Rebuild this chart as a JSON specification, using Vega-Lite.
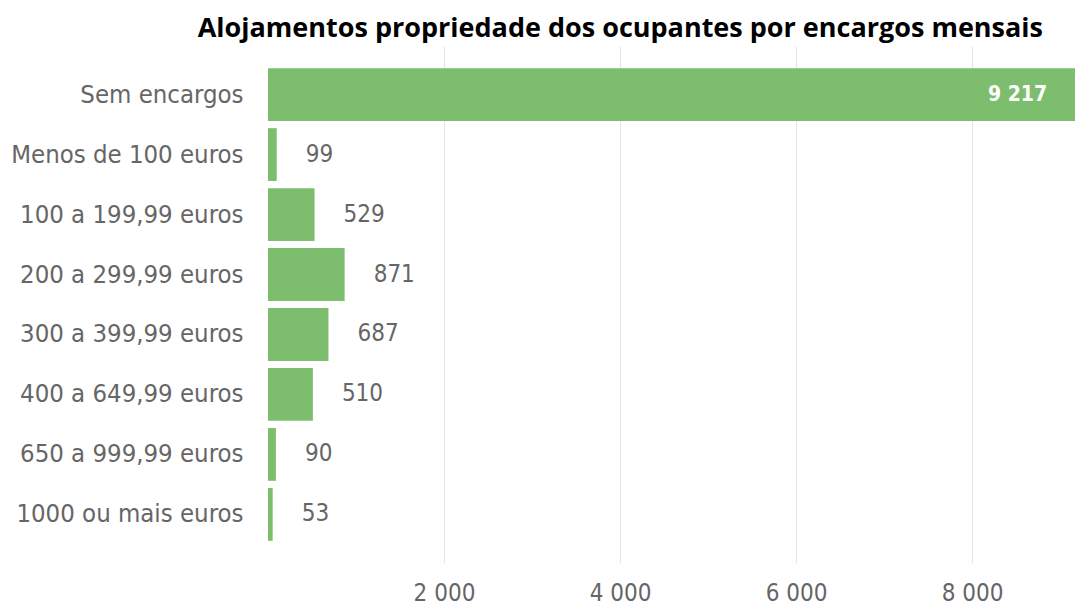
{
  "$schema": "https://vega.github.io/schema/vega-lite/v6.json",
  "width": 807,
  "height": 517,
  "autosize": {"type": "none"},
  "padding": {"left": 268, "top": 46, "right": 0, "bottom": 45},
  "background": "white",
  "title": {
    "text": "Alojamentos propriedade dos ocupantes por encargos mensais",
    "anchor": "end",
    "dx": -32,
    "offset": 3,
    "font": "Open Sans",
    "fontSize": 27,
    "fontWeight": "bold",
    "color": "#000000"
  },
  "data": {
    "values": [
      {"categoria": "Sem encargos", "alojamentos": 9217},
      {"categoria": "Menos de 100 euros", "alojamentos": 99},
      {"categoria": "100 a 199,99 euros", "alojamentos": 529},
      {"categoria": "200 a 299,99 euros", "alojamentos": 871},
      {"categoria": "300 a 399,99 euros", "alojamentos": 687},
      {"categoria": "400 a 649,99 euros", "alojamentos": 510},
      {"categoria": "650 a 999,99 euros", "alojamentos": 90},
      {"categoria": "1000 ou mais euros", "alojamentos": 53}
    ]
  },
  "encoding": {
    "y": {
      "field": "categoria",
      "type": "nominal",
      "sort": null,
      "scale": {"paddingInner": 0.12, "paddingOuter": 0.37},
      "axis": {
        "title": null,
        "domain": false,
        "ticks": false,
        "labelPadding": 25,
        "labelFont": "DejaVu Sans Condensed",
        "labelFontSize": 25.5,
        "labelColor": "#666666",
        "labelLimit": 300
      }
    }
  },
  "layer": [
    {
      "mark": {"type": "bar", "color": "#7dbe6e", "clip": true},
      "encoding": {
        "x": {
          "field": "alojamentos",
          "type": "quantitative",
          "scale": {"domain": [0, 9170], "nice": false},
          "axis": {
            "title": null,
            "values": [2000, 4000, 6000, 8000],
            "format": ",d",
            "domain": false,
            "ticks": false,
            "grid": true,
            "gridColor": "#e4e4e4",
            "gridWidth": 1,
            "labelPadding": 18,
            "labelFont": "DejaVu Sans Condensed",
            "labelFontSize": 24,
            "labelColor": "#666666"
          }
        }
      }
    },
    {
      "transform": [{"filter": "datum.alojamentos < 5000"}],
      "mark": {
        "type": "text",
        "align": "left",
        "baseline": "middle",
        "dx": 29,
        "font": "DejaVu Sans Condensed",
        "fontSize": 24,
        "color": "#666666"
      },
      "encoding": {
        "x": {"field": "alojamentos", "type": "quantitative"},
        "text": {"field": "alojamentos", "type": "quantitative", "format": ",d"}
      }
    },
    {
      "transform": [{"filter": "datum.alojamentos >= 5000"}],
      "mark": {
        "type": "text",
        "align": "right",
        "baseline": "middle",
        "dx": -32,
        "font": "DejaVu Sans Condensed",
        "fontSize": 21,
        "fontWeight": "bold",
        "color": "#ffffff"
      },
      "encoding": {
        "x": {"field": "alojamentos", "type": "quantitative"},
        "text": {"field": "alojamentos", "type": "quantitative", "format": ",d"}
      }
    }
  ],
  "config": {
    "view": {"stroke": null},
    "locale": {
      "number": {"decimal": ",", "thousands": " ", "grouping": [3], "currency": ["", " €"]}
    }
  }
}
